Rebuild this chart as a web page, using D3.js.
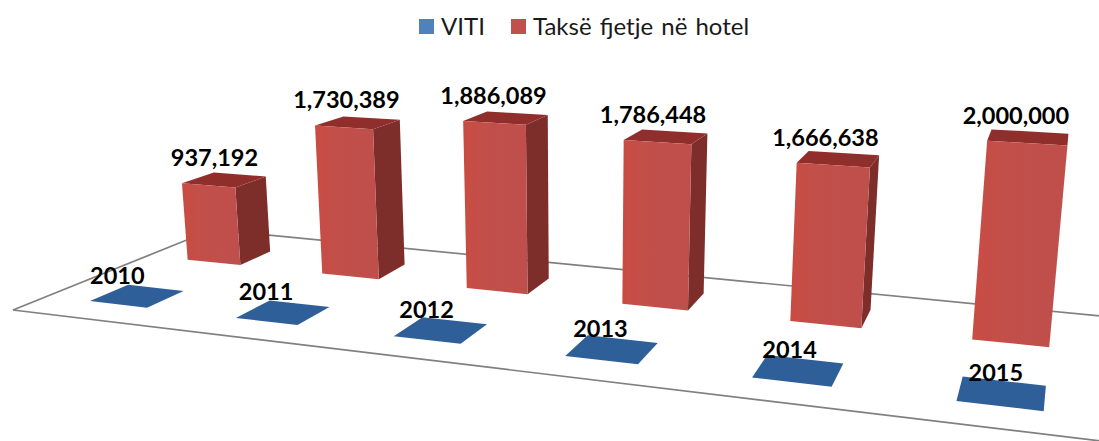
<!DOCTYPE html>
<html><head><meta charset="utf-8">
<script src="https://cdnjs.cloudflare.com/ajax/libs/d3/7.8.5/d3.min.js"></script>
<style>html,body{margin:0;padding:0;background:#fff}svg{display:block}text{font-family:Lato,sans-serif}</style>
</head><body><svg id="c" width="1099" height="441"></svg>
<script>
const years = [2010, 2011, 2012, 2013, 2014, 2015];
const viti = [2010, 2011, 2012, 2013, 2014, 2015];
const hotelTax = [937192, 1730389, 1886089, 1786448, 1666638, 2000000];
const seriesNames = ["VITI", "Taksë fjetje në hotel"];
const legendColors = ["#4f81bd", "#c0504d"];

const W = 1099, H = 441;
const svg = d3.select("#c");
const defs = svg.append("defs");
defs.append("filter").attr("id", "soft").append("feGaussianBlur").attr("stdDeviation", 0.7);
const grad = defs.append("linearGradient").attr("id", "front");
[["0%", "#c94c42"], ["35%", "#c2504a"], ["100%", "#bf504c"]].forEach(s =>
  grad.append("stop").attr("offset", s[0]).attr("stop-color", s[1]));

// Perspective camera: vanishing points of the category, depth and height
// directions, plus the floor's front-left corner.
const vpU = [-3600, -125], vpV = [1090, -124], vpH = [580, 5550], origin = [13, 310];
const lamU = -0.2311, lamV = 0.2253;

const uScale = d3.scaleBand().domain(years).range([0.052, 0.959]).paddingInner(0.6).paddingOuter(0);
const vScale = d3.scaleBand().domain(seriesNames).range([0.145, 0.815]).paddingInner(0.633).paddingOuter(0);
const hScale = d3.scaleLinear().domain([0, 2000000]).range([0, -0.0344]);

function project(u, v, value) {
  const a = lamU * u, b = lamV * v, c = hScale(value);
  const w = 1 + a + b + c;
  return [
    (origin[0] + a * vpU[0] + b * vpV[0] + c * vpH[0]) / w,
    (origin[1] + a * vpU[1] + b * vpV[1] + c * vpH[1]) / w
  ];
}
const poly = d3.line();
const pathOf = pts => poly(pts) + "Z";

function box(year, series, value) {
  const u0 = uScale(year), u1 = u0 + uScale.bandwidth();
  const v0 = vScale(series), v1 = v0 + vScale.bandwidth();
  return {
    front: [project(u0, v0, 0), project(u1, v0, 0), project(u1, v0, value), project(u0, v0, value)],
    side: [project(u1, v0, 0), project(u1, v1, 0), project(u1, v1, value), project(u1, v0, value)],
    top: [project(u0, v0, value), project(u1, v0, value), project(u1, v1, value), project(u0, v1, value)],
    frontTop: project((u0 + u1) / 2, v0, value),
    topCentre: project((u0 + u1) / 2, (v0 + v1) / 2, value)
  };
}

const marks = svg.append("g").attr("filter", "url(#soft)");

// floor
const floorEdges = [
  [[1.02, 0], [0, 0], [0, 1.01], [1.02, 0.97]]
];
marks.selectAll("path.floor").data(floorEdges).join("path")
  .attr("class", "floor").attr("fill", "none").attr("stroke", "#808080").attr("stroke-width", 1.7)
  .attr("d", d => poly(d.map(p => project(p[0], p[1], 0))));

// VITI series: heights are negligible on the value scale, so only the top shows
const vitiBoxes = viti.map((val, i) => box(years[i], seriesNames[0], val));
marks.selectAll("path.viti").data(vitiBoxes).join("path")
  .attr("class", "viti").attr("fill", "#2f5f98").attr("d", d => pathOf(d.top));

// Hotel-tax series
const taxBoxes = hotelTax.map((val, i) => box(years[i], seriesNames[1], val));
const bars = marks.selectAll("g.bar").data(taxBoxes).join("g").attr("class", "bar");
bars.append("path").attr("fill", "#7e2f2c").attr("d", d => pathOf(d.side));
bars.append("path").attr("fill", "#8f2f2c").attr("d", d => pathOf(d.top));
bars.append("path").attr("fill", "url(#front)").attr("d", d => pathOf(d.front));

// labels
const fmt = d3.format(",");
const taxNudge = d3.scaleLinear().domain([0, 5]).range([6, -11]);
const vitiNudge = d3.scaleLinear().domain([0, 5]).range([-20, -6]);
const labels = svg.append("g").attr("font-weight", 700).attr("font-size", 23.5)
  .attr("fill", "#000").attr("text-anchor", "middle");
labels.selectAll("text.tax").data(taxBoxes).join("text").attr("class", "tax")
  .attr("x", (d, i) => d.frontTop[0] + taxNudge(i))
  .attr("y", d => d.frontTop[1] - 19)
  .text((d, i) => fmt(hotelTax[i]));
labels.selectAll("text.viti").data(vitiBoxes).join("text").attr("class", "viti")
  .attr("x", (d, i) => d.topCentre[0] + vitiNudge(i))
  .attr("y", d => d.topCentre[1] - 12)
  .text((d, i) => viti[i]);

// legend
const legendX = d3.scaleOrdinal().domain(seriesNames).range([419, 511]);
const legend = svg.append("g").selectAll("g").data(seriesNames).join("g")
  .attr("transform", d => `translate(${legendX(d)},19)`);
legend.append("rect").attr("width", 15).attr("height", 15).attr("fill", (d, i) => legendColors[i]);
legend.append("text").attr("x", 22).attr("y", 15.5).attr("font-size", 24).attr("word-spacing", 2)
  .attr("fill", "#1a1a1a").text(d => d);
</script></body></html>
